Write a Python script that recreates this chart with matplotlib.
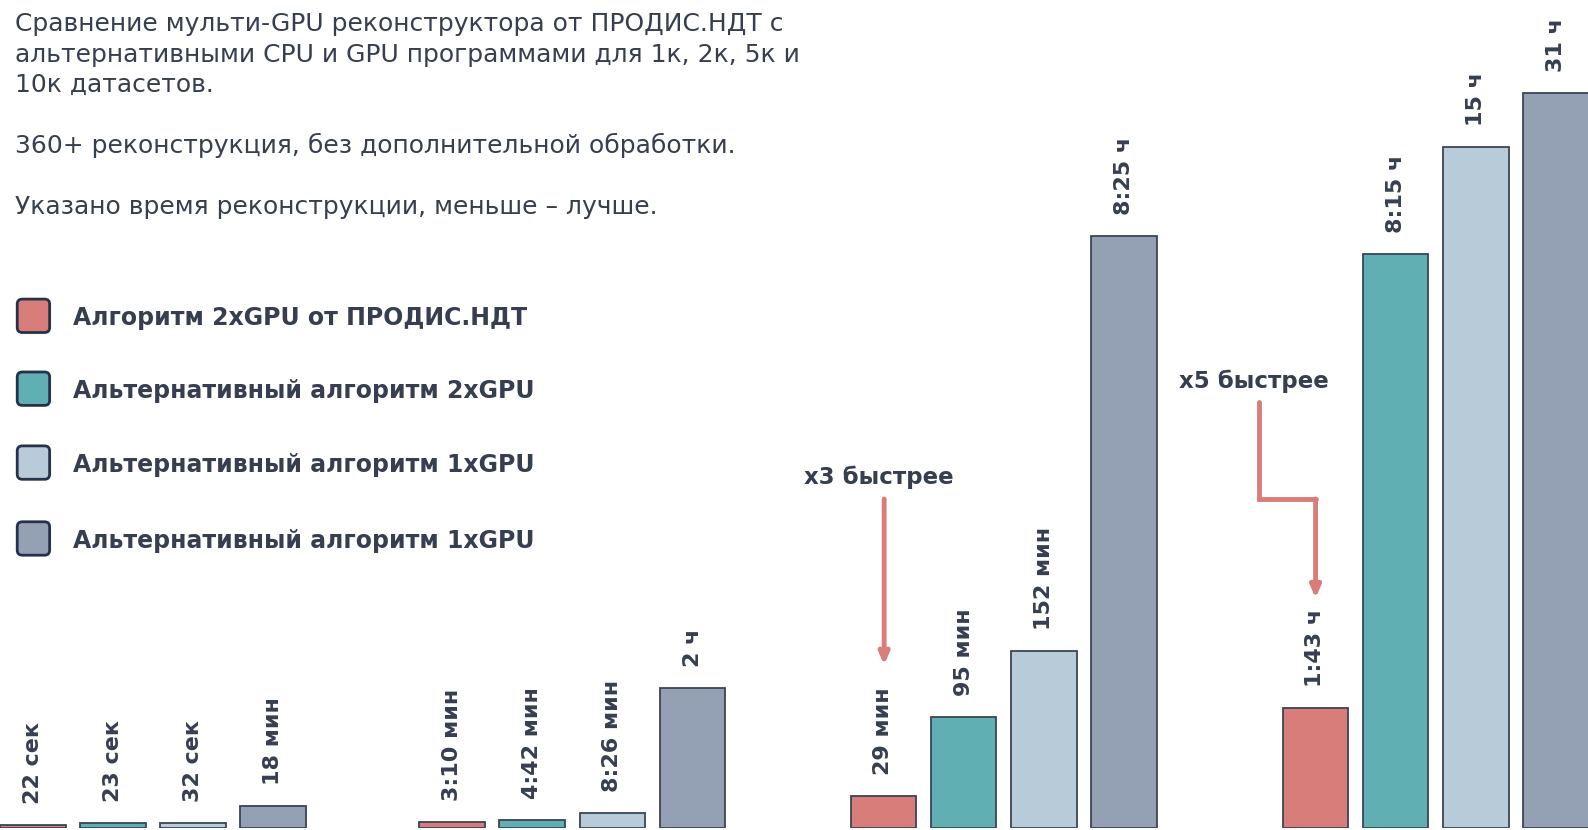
import matplotlib.pyplot as plt
from matplotlib.patches import FancyBboxPatch

plt.rcParams['font.family'] = ['DejaVu Sans']

# bar heights (arbitrary display units) per series, groups 1k/2k/5k/10k
prodis_2gpu = [3, 6, 32, 119]
alt_2gpu = [5, 8, 110, 567]
alt_1gpu_a = [5, 15, 175, 673]
alt_1gpu_b = [22, 138, 585, 726]

prodis_lbl = ['22 сек', '3:10 мин', '29 мин', '1:43 ч']
alt_2gpu_lbl = ['23 сек', '4:42 мин', '95 мин', '8:15 ч']
alt_1gpu_a_lbl = ['32 сек', '8:26 мин', '152 мин', '15 ч']
alt_1gpu_b_lbl = ['18 мин', '2 ч', '8:25 ч', '31 ч']

legend_names = ['Алгоритм 2xGPU от ПРОДИС.НДТ',
                'Альтернативный алгоритм 2xGPU',
                'Альтернативный алгоритм 1xGPU',
                'Альтернативный алгоритм 1xGPU']

intro_lines = ['Сравнение мульти-GPU реконструктора от ПРОДИС.НДТ с',
               'альтернативными CPU и GPU программами для 1к, 2к, 5к и',
               '10к датасетов.',
               '',
               '360+ реконструкция, без дополнительной обработки.',
               '',
               'Указано время реконструкции, меньше – лучше.']

colors = ['#d97d7b', '#5fafb3', '#b8cbd9', '#94a0b4']
edge = '#3a4456'
txt = '#363e4f'
arrow_c = '#d97d7b'

series = [prodis_2gpu, alt_2gpu, alt_1gpu_a, alt_1gpu_b]
labels = [prodis_lbl, alt_2gpu_lbl, alt_1gpu_a_lbl, alt_1gpu_b_lbl]

fig = plt.figure(figsize=(15.88, 8.30), dpi=100)
ax = fig.add_axes([0, 2 / 820, 1, 818 / 820])
ax.set_xlim(0, 19.81)
ax.set_ylim(0, 818)
ax.axis('off')

group_start = [0, 5.23, 10.61, 16.0]
bar_w = 0.82
for i, (vals, lbls) in enumerate(zip(series, labels)):
    xs = [group_start[g] + i + bar_w / 2 for g in range(len(vals))]
    ax.bar(xs, vals, width=bar_w, color=colors[i], edgecolor=edge, linewidth=1.3)
    for x, v, s in zip(xs, vals, lbls):
        ax.annotate(s, (x, v), xytext=(0, 21), textcoords='offset pixels',
                    rotation=90, ha='center', va='bottom', fontsize=16,
                    fontweight='bold', color=txt)

# overlay in picture pixels for the text block, legend and arrows
ov = fig.add_axes([0, 0, 1, 1])
ov.set_xlim(0, 1568)
ov.set_ylim(820, 0)
ov.axis('off')
ov.patch.set_alpha(0)

for k, line in enumerate(intro_lines):
    ov.text(15, 31 + 30 * k, line, fontsize=18, color=txt, va='baseline', ha='left')

for k, name in enumerate(legend_names):
    cy = [312, 384, 457, 532][k]
    ov.add_patch(FancyBboxPatch((17, cy - 16.5), 32, 33,
                                boxstyle='round,pad=0,rounding_size=5',
                                facecolor=colors[k], edgecolor='#26314a', linewidth=2))
    ov.text(72, cy + 9.5, name, fontsize=17, fontweight='bold', color=txt,
            va='baseline', ha='left')

ov.text(868, 478, 'x3 быстрее', fontsize=16.5, fontweight='bold', color=txt,
        ha='center', va='baseline')
ov.text(1238, 383, 'x5 быстрее', fontsize=16.5, fontweight='bold', color=txt,
        ha='center', va='baseline')

head = dict(arrowstyle='-|>,head_width=0.3,head_length=0.7', color=arrow_c,
            lw=3.5, shrinkA=0, shrinkB=0)
ov.annotate('', xy=(873, 657), xytext=(873, 493), arrowprops=head)
ov.plot([1243, 1243, 1299], [397, 493, 493], color=arrow_c, lw=3.5,
        solid_capstyle='round', solid_joinstyle='miter')
ov.annotate('', xy=(1299, 591), xytext=(1299, 493), arrowprops=head)

fig.savefig('out.png', dpi=100)
